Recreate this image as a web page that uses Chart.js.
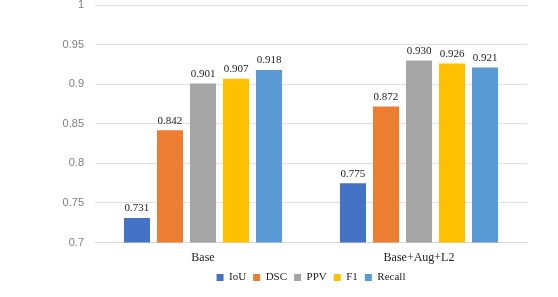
<!DOCTYPE html>
<html>
<head>
<meta charset="utf-8">
<script src="https://cdn.jsdelivr.net/npm/chart.js@4.4.1/dist/chart.umd.min.js"></script>
<style>
  html, body { margin: 0; padding: 0; background: #fff; }
  #wrap { width: 558px; height: 297px; }
</style>
</head>
<body>
<div id="wrap"><canvas id="chart"></canvas></div>
<script>
const categories = ['Base', 'Base+Aug+L2'];
const seriesNames = ['IoU', 'DSC', 'PPV', 'F1', 'Recall'];
const iou = [0.731, 0.775];
const dsc = [0.842, 0.872];
const ppv = [0.901, 0.930];
const f1 = [0.907, 0.926];
const recall = [0.918, 0.921];
const yTicks = [0.7, 0.75, 0.8, 0.85, 0.9, 0.95, 1];
const colors = ['#4472C4', '#ED7D31', '#A5A5A5', '#FFC000', '#5B9BD5'];

const serif = '"Liberation Serif", "DejaVu Serif", serif';

const valueLabels = {
    id: 'valueLabels',
    afterDatasetsDraw(chart) {
        const ctx = chart.ctx;
        ctx.save();
        ctx.font = '11px ' + serif;
        ctx.fillStyle = '#222';
        ctx.textAlign = 'center';
        ctx.textBaseline = 'bottom';
        chart.data.datasets.forEach(function (ds, i) {
            chart.getDatasetMeta(i).data.forEach(function (bar, j) {
                ctx.fillText(ds.data[j].toFixed(3), bar.x, bar.y - 4);
            });
        });
        ctx.restore();
    }
};

// centre the legend under the plot area rather than the padded box
const legendShift = {
    id: 'legendShift',
    afterLayout(chart) {
        const lg = chart.legend;
        const dx = (chart.chartArea.left + chart.chartArea.right) / 2 - (lg.left + lg.right) / 2;
        lg.left += dx;
        lg.right += dx;
    }
};

const allSeries = [iou, dsc, ppv, f1, recall];

new Chart(document.getElementById('chart'), {
    type: 'bar',
    data: {
        labels: categories,
        datasets: allSeries.map(function (values, i) {
            return {
                label: seriesNames[i],
                data: values,
                backgroundColor: colors[i],
                categoryPercentage: 0.764,
                barPercentage: 0.79
            };
        })
    },
    options: {
        responsive: true,
        maintainAspectRatio: false,
        animation: false,
        layout: { padding: { top: 5, right: 31, bottom: 4, left: 0 } },
        plugins: {
            tooltip: { enabled: false },
            legend: {
                position: 'bottom',
                labels: {
                    boxWidth: 7,
                    boxHeight: 7,
                    padding: 7,
                    color: '#222',
                    font: { family: serif, size: 11 }
                }
            }
        },
        scales: {
            x: {
                grid: { display: false },
                border: { display: true, color: '#d9d9d9' },
                ticks: { color: '#222', font: { family: serif, size: 12 }, padding: 0 }
            },
            y: {
                min: 0.7,
                max: 1,
                afterFit: function (scale) {
                    scale.width = 95;
                    scale.paddingTop = 0;
                    scale.paddingBottom = 0;
                },
                afterBuildTicks: function (scale) {
                    scale.ticks = yTicks.map(function (v) { return { value: v }; });
                },
                grid: { color: '#e0e0e0', drawTicks: false },
                border: { display: false },
                ticks: {
                    color: '#7f7f7f',
                    padding: 11,
                    font: { family: '"Liberation Sans", Arial, sans-serif', size: 11 },
                    callback: function (v) { return String(+v.toFixed(2)); }
                }
            }
        }
    },
    plugins: [valueLabels, legendShift]
});
</script>
</body>
</html>
